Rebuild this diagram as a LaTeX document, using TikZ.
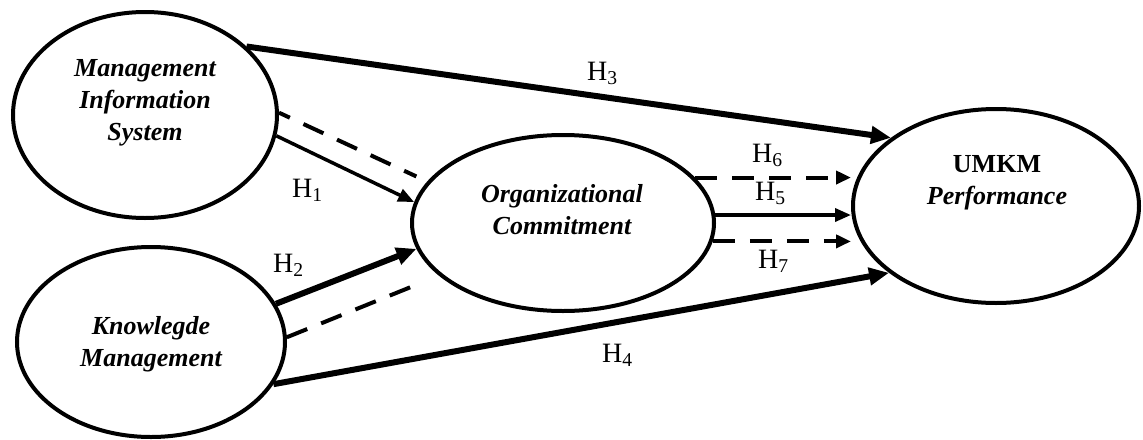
\documentclass[tikz,border=0pt]{standalone}
\usepackage{fontspec}
\setmainfont{Liberation Serif}
\usetikzlibrary{arrows.meta,shapes.geometric,calc}
\tikzset{
  construct/.style={draw, ellipse, line width=4pt, inner sep=0pt},
  ctext/.style={align=center, inner sep=0pt, font=\fontsize{26}{32}\selectfont\bfseries\itshape},
  hlab/.style={inner sep=0pt, anchor=base west, font=\fontsize{28}{30}\selectfont},
  thickarrow/.style={line width=6pt, -{Triangle[length=20pt,width=17pt]}},
  thinarrow/.style={line width=3.5pt, -{Triangle[length=16pt,width=13pt]}},
  dashline/.style={line width=4pt, dash pattern=on 22pt off 15pt},
  dasharrow/.style={line width=4pt, dash pattern=on 22pt off 15pt, -{Triangle[length=15pt,width=13pt]}}
}
\begin{document}
\begin{tikzpicture}[x=1pt,y=-1pt]
\useasboundingbox (0,0) rectangle (1143,439);
% constructs
\node[construct, minimum width=264pt, minimum height=206pt] (mis) at (145,115) {};
\node[construct, minimum width=268pt, minimum height=190pt] (km) at (151,342) {};
\node[construct, minimum width=302pt, minimum height=176pt] (oc) at (563,223) {};
\node[construct, minimum width=286pt, minimum height=194pt] (umkm) at (996,206) {};
% texts
\node[ctext] (mist) at (145,103) {Management\\Information\\System};
\node[ctext] (kmt) at (151,344) {Knowlegde\\Management};
\node[ctext] (oct) at (562,210) {Organizational\\Commitment};
\node[ctext] (umkmt) at (997,183) {\upshape UMKM\\Performance};
% connectors
\draw[thickarrow] (mis.34.5) -- (umkm.147);
\draw[thickarrow] (km.-19) -- (umkm.-148.6);
\draw[thinarrow] (mis.-9) -- (oc.172);
\draw[dashline, dash phase=10pt, shorten >=12pt] (mis.1) -- (oc.163);
\draw[thickarrow] (km.17.7) -- (oc.-170.8);
\draw[dashline, shorten >=20pt] (km.2) -- (oc.-157);
\draw[dasharrow] (oc.19) -- (oc.19 -| umkm.west);
\draw[thinarrow] (oc.3) -- (oc.3 -| umkm.west);
\draw[dasharrow] (oc.-7.5) -- (oc.-7.5 -| umkm.west);
% labels
\node[hlab] (h1) at (292,197) {H\textsubscript{1}};
\node[hlab] (h2) at (273,272) {H\textsubscript{2}};
\node[hlab] (h3) at (587,80) {H\textsubscript{3}};
\node[hlab] (h4) at (602,362) {H\textsubscript{4}};
\node[hlab] (h5) at (755,200) {H\textsubscript{5}};
\node[hlab] (h6) at (752,162) {H\textsubscript{6}};
\node[hlab] (h7) at (758,268) {H\textsubscript{7}};
\end{tikzpicture}
\end{document}
